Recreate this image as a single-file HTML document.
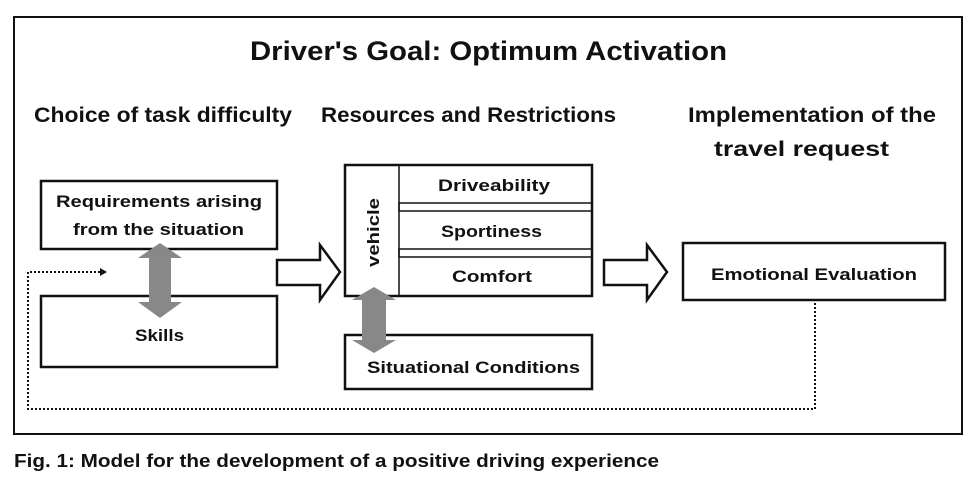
<!DOCTYPE html>
<html><head><style>
body{margin:0;background:#fff;}
svg text{font-family:"Liberation Sans",sans-serif;fill:#111;font-weight:bold;}
</style></head><body>
<svg width="974" height="482" viewBox="0 0 974 482" xmlns="http://www.w3.org/2000/svg">
<rect x="0" y="0" width="974" height="482" fill="#fff"/>
<rect x="14" y="17" width="948" height="417" fill="none" stroke="#111" stroke-width="2"/>
<text x="250" y="60" font-size="27" textLength="477" lengthAdjust="spacingAndGlyphs">Driver's Goal: Optimum Activation</text>
<text x="34" y="122" font-size="21" textLength="258" lengthAdjust="spacingAndGlyphs">Choice of task difficulty</text>
<text x="321" y="122" font-size="21" textLength="295" lengthAdjust="spacingAndGlyphs">Resources and Restrictions</text>
<text x="688" y="122" font-size="21" textLength="248" lengthAdjust="spacingAndGlyphs">Implementation of the</text>
<text x="714" y="156" font-size="21" textLength="175" lengthAdjust="spacingAndGlyphs">travel request</text>
<g fill="#fff" stroke="#111" stroke-width="2.5">
<rect x="41" y="181" width="236" height="68"/>
<rect x="41" y="296" width="236" height="71"/>
<rect x="345" y="165" width="247" height="131"/>
<rect x="345" y="335" width="247" height="54"/>
<rect x="683" y="243" width="262" height="57"/>
</g>
<g stroke="#111" stroke-width="1.5" fill="none">
<line x1="399" y1="165" x2="399" y2="296"/>
<polyline points="592,203 399,203 399,211 592,211"/>
<polyline points="592,249 399,249 399,257 592,257"/>
</g>
<text x="56" y="207" font-size="17" textLength="206" lengthAdjust="spacingAndGlyphs">Requirements arising</text>
<text x="73" y="235" font-size="17" textLength="171" lengthAdjust="spacingAndGlyphs">from the situation</text>
<text x="135" y="341" font-size="17" textLength="49" lengthAdjust="spacingAndGlyphs">Skills</text>
<text x="438" y="191" font-size="17" textLength="112" lengthAdjust="spacingAndGlyphs">Driveability</text>
<text x="441" y="237" font-size="17" textLength="101" lengthAdjust="spacingAndGlyphs">Sportiness</text>
<text x="452" y="282" font-size="17" textLength="80" lengthAdjust="spacingAndGlyphs">Comfort</text>
<text transform="translate(379,267) rotate(-90)" font-size="17" textLength="69" lengthAdjust="spacingAndGlyphs">vehicle</text>
<text x="367" y="373" font-size="17" textLength="213" lengthAdjust="spacingAndGlyphs">Situational Conditions</text>
<text x="711" y="280" font-size="17" textLength="206" lengthAdjust="spacingAndGlyphs">Emotional Evaluation</text>
<polygon fill="#888" points="160,243 182,258 171,258 171,302 182,302 160,318 138,302 149,302 149,258 138,258"/>
<polygon fill="#888" points="374,287 396,300 386,300 386,340 396,340 374,353 352,340 362,340 362,300 352,300"/>
<g fill="#fff" stroke="#111" stroke-width="2.5">
<polygon points="277,260 320,260 320,245 340,272 320,300 320,285 277,285"/>
<polygon points="604,260 647,260 647,245 667,272 647,300 647,285 604,285"/>
</g>
<g stroke="#111" stroke-width="2" stroke-dasharray="2,2" fill="none">
<polyline points="100,272 28,272 28,409 815,409 815,300"/>
</g>
<polygon points="100,268 107,272 100,276" fill="#111"/>
<text x="14" y="467" font-size="18" textLength="645" lengthAdjust="spacingAndGlyphs">Fig. 1: Model for the development of a positive driving experience</text>
</svg>
</body></html>
